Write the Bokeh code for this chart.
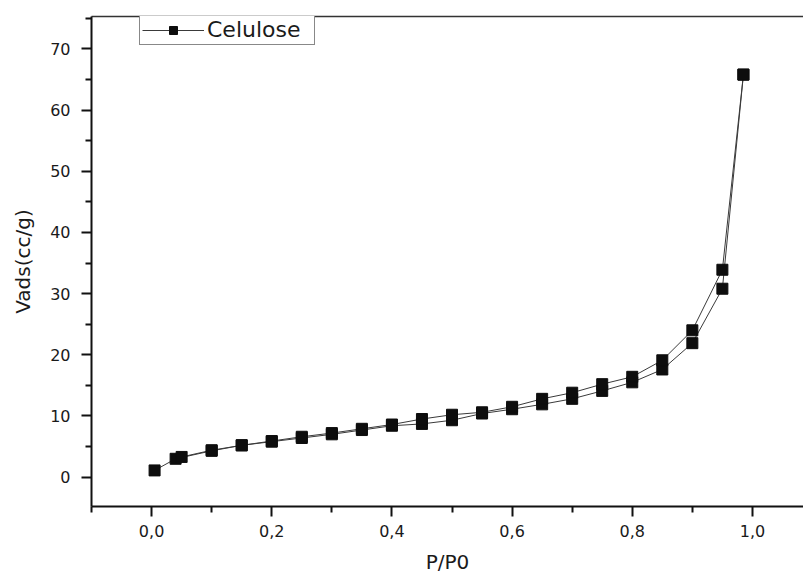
from bokeh.plotting import figure
from bokeh.models import (LinearAxis, FixedTicker, Legend, LegendItem, Range1d,
                          CustomJSTickFormatter)
from bokeh.embed import file_html
from bokeh.resources import INLINE

# Adsorption branch (lower)
ads_x = [0.005, 0.04, 0.1, 0.15, 0.2, 0.25, 0.3, 0.35, 0.4, 0.45, 0.5, 0.55,
         0.6, 0.65, 0.7, 0.75, 0.8, 0.85, 0.9, 0.95, 0.985]
ads_y = [1.1, 3.0, 4.3, 5.2, 5.8, 6.4, 7.0, 7.7, 8.4, 8.7, 9.3, 10.4,
         11.1, 11.9, 12.8, 14.1, 15.5, 17.6, 21.9, 30.8, 65.8]
# Desorption branch (upper)
des_x = [0.985, 0.95, 0.9, 0.85, 0.8, 0.75, 0.7, 0.65, 0.6, 0.55, 0.5, 0.45,
         0.4, 0.35, 0.3, 0.25, 0.2, 0.15, 0.1, 0.05]
des_y = [65.8, 33.9, 24.0, 19.1, 16.4, 15.2, 13.8, 12.8, 11.5, 10.6, 10.2, 9.5,
         8.6, 7.9, 7.2, 6.6, 5.9, 5.2, 4.4, 3.3]

x_major = [0.0, 0.2, 0.4, 0.6, 0.8, 1.0]
x_minor = [-0.1, 0.1, 0.3, 0.5, 0.7, 0.9]
y_major = [0, 10, 20, 30, 40, 50, 60, 70]
y_minor = [5, 15, 25, 35, 45, 55, 65, 75]

x_title = "P/P0"
y_title = "Vads(cc/g)"
series_name = "Celulose"

FONT = "DejaVu Sans"
TXT = "#1a1a1a"

p = figure(width=803, height=577, output_backend="svg", toolbar_location=None,
           x_range=Range1d(-0.1, 1.085), y_range=Range1d(-4.8, 75.3),
           x_axis_label=x_title, y_axis_label=y_title,
           min_border_left=91, min_border_right=0, min_border_top=16,
           min_border_bottom=71)
p.outline_line_color = None
p.grid.visible = False
p.background_fill_color = "white"

for ax in (p.xaxis[0], p.yaxis[0]):
    ax.axis_line_width = 2
    ax.axis_line_color = "#111111"
    ax.major_tick_line_width = 2
    ax.minor_tick_line_width = 2
    ax.major_tick_line_color = "#111111"
    ax.minor_tick_line_color = "#111111"
    ax.major_tick_in = 0
    ax.major_tick_out = 10
    ax.minor_tick_in = 0
    ax.minor_tick_out = 6
    ax.major_label_text_font = FONT
    ax.major_label_text_font_size = "16px"
    ax.major_label_text_color = TXT
    ax.axis_label_text_font = FONT
    ax.axis_label_text_font_size = "20px"
    ax.axis_label_text_font_style = "normal"
    ax.axis_label_text_color = TXT

p.xaxis[0].ticker = FixedTicker(ticks=x_major, minor_ticks=x_minor)
p.xaxis[0].formatter = CustomJSTickFormatter(code="return tick.toFixed(1).replace('.', ',');")
p.xaxis[0].major_label_standoff = 8
p.xaxis[0].axis_label_standoff = 10

p.yaxis[0].ticker = FixedTicker(ticks=y_major, minor_ticks=y_minor)
p.yaxis[0].major_label_standoff = 11
p.yaxis[0].axis_label_standoff = 12

top = LinearAxis(ticker=FixedTicker(ticks=[]), major_label_text_font_size="0px",
                 major_tick_out=0, minor_tick_out=0, major_label_standoff=0,
                 axis_line_color="#333333", axis_line_width=1.5)
p.add_layout(top, "above")

line_color = "#3a3a3a"
r_al = p.line(ads_x, ads_y, line_color=line_color, line_width=1)
r_dl = p.line(des_x, des_y, line_color=line_color, line_width=1)
r_as = p.scatter(ads_x, ads_y, marker="square", size=11, fill_color="#0d0d0d",
                 line_color="#0d0d0d")
r_ds = p.scatter(des_x, des_y, marker="square", size=11, fill_color="#0d0d0d",
                 line_color="#0d0d0d")

legend = Legend(items=[LegendItem(label=series_name, renderers=[r_al, r_as])],
                location=(48, 461), orientation="vertical",
                glyph_width=62, glyph_height=20, label_height=25, label_width=105,
                label_standoff=3, padding=2, margin=0, spacing=0,
                border_line_color="#111111", border_line_width=1,
                background_fill_color="white", background_fill_alpha=1,
                label_text_font=FONT, label_text_font_size="22px",
                label_text_color=TXT)
p.add_layout(legend, "center")

open("out.html", "w").write(file_html(p, INLINE))
